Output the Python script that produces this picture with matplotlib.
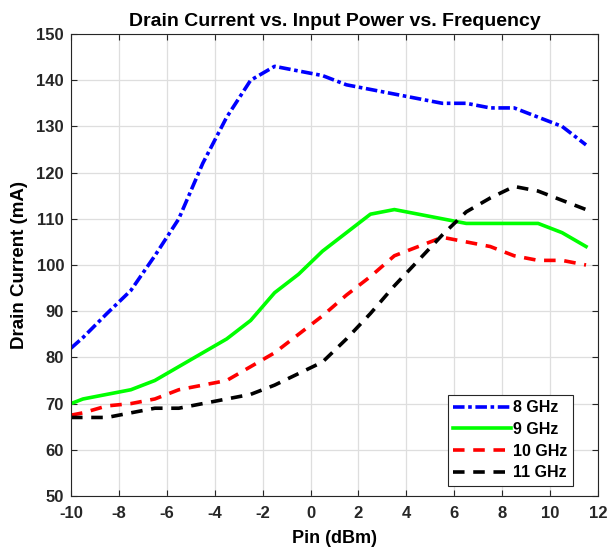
import matplotlib
matplotlib.use("Agg")
import matplotlib.pyplot as plt

plt.rcParams['font.family'] = ['Liberation Sans', 'DejaVu Sans']
plt.rcParams['font.weight'] = 'bold'
plt.rcParams['axes.unicode_minus'] = False

pin = [-10, -9.5, -8.5, -7.5, -6.5, -5.5, -4.5, -3.5, -2.5, -1.5, -0.5, 0.5,
       1.5, 2.5, 3.5, 4.5, 5.5, 6.5, 7.5, 8.5, 9.5, 10.5, 11.5]
i_8ghz = [82, 84.3, 89.5, 94.5, 102, 110, 122, 132, 140, 143, 142, 141,
          139, 138, 137, 136, 135, 135, 134, 134, 132, 130, 126]
i_9ghz = [70, 71, 72, 73, 75, 78, 81, 84, 88, 94, 98, 103,
          107, 111, 112, 111, 110, 109, 109, 109, 109, 107, 104]
i_10ghz = [67.5, 68, 69.5, 70, 71, 73, 74, 75, 78, 81, 85, 89,
           93.5, 97.5, 102, 104, 106, 105, 104, 102, 101, 101, 100]
i_11ghz = [67, 67, 67, 68, 69, 69, 70, 71, 72, 74, 76.5, 79,
           84, 89.5, 95.5, 101, 106.5, 111.5, 114.5, 117, 116, 114, 112]

fig = plt.figure(figsize=(6.11, 5.53), dpi=100)
ax = fig.add_axes([71/611, 57/553, 527/611, 462/553])

lw = 2.6
ax.plot(pin, i_8ghz, color='#0000ff', linestyle=(0, (3.2, 1.0, 1, 1.0)), lw=lw, label='8 GHz')
ax.plot(pin, i_9ghz, color='#00ff00', linestyle='-', lw=lw, label='9 GHz')
ax.plot(pin, i_10ghz, color='#ff0000', linestyle=(0, (3.2, 2.4)), lw=lw, label='10 GHz')
ax.plot(pin, i_11ghz, color='black', linestyle=(0, (3.2, 2.4)), lw=lw, label='11 GHz')

ax.set_xlim(-10, 12)
ax.set_ylim(50, 150)
ax.set_xticks(range(-10, 13, 2))
ax.set_yticks(range(50, 151, 10))
ax.grid(True, color='#dedede', linewidth=0.9)
ax.set_axisbelow(True)
ax.tick_params(direction='in', top=True, right=True, labelsize=12, colors='#262626',
               length=4, width=0.8)
ax.tick_params(axis='x', pad=7)
ax.tick_params(axis='y', pad=5)
for lab in ax.get_xticklabels() + ax.get_yticklabels():
    lab.set_fontweight('bold')
for s in ax.spines.values():
    s.set_color('#262626')
    s.set_linewidth(0.8)

ax.set_xlabel('Pin (dBm)', fontsize=13, fontweight='bold', labelpad=7)
ax.set_ylabel('Drain Current (mA)', fontsize=13.5, fontweight='bold', labelpad=6)
ax.set_title('Drain Current vs. Input Power vs. Frequency', fontsize=14,
             fontweight='bold', pad=6)

leg = ax.legend(loc='lower right', bbox_to_anchor=(0.953, 0.022), fontsize=11.5,
                handlelength=3.6, handletextpad=0.15, borderpad=0.35, labelspacing=0.42,
                fancybox=False, framealpha=1, edgecolor='#262626', borderaxespad=0)
leg.get_frame().set_linewidth(0.8)

fig.savefig('out.png', dpi=100)
